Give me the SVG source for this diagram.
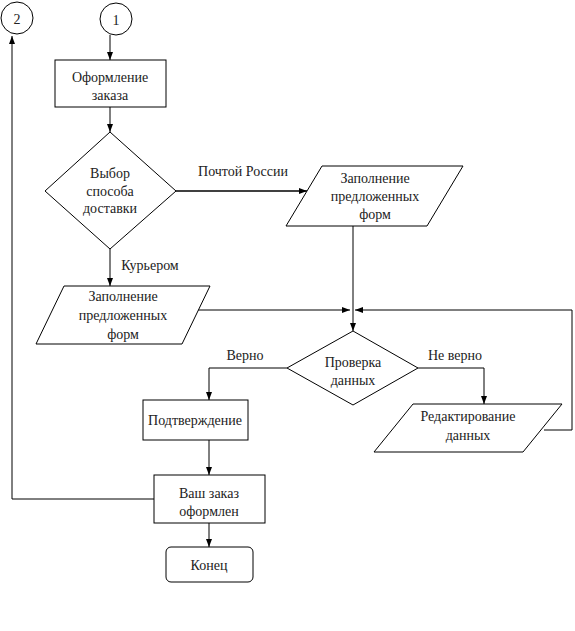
<svg xmlns="http://www.w3.org/2000/svg" width="575" height="631" viewBox="0 0 575 631">
<defs>
<style>
.s{fill:#fff;stroke:#000;stroke-width:1}
.t{font-family:'Liberation Serif','DejaVu Serif',serif;font-size:14px;fill:#222;text-anchor:middle}
.l{fill:none;stroke:#000;stroke-width:1}
.b{fill:none;stroke:#000;stroke-width:1.6}
</style>
<marker id="a" markerUnits="userSpaceOnUse" markerWidth="8" markerHeight="8" viewBox="0 0 8 8" refX="8" refY="4" orient="auto">
<path d="M0,1 L8,4 L0,7 Z" fill="#000"/>
</marker>
</defs>
<rect width="575" height="631" fill="#fff"/>
<g id="connectors">
<path class="l" d="M110,35 V60" marker-end="url(#a)"/>
<path class="l" d="M110,107 V132" marker-end="url(#a)"/>
<path class="b" d="M176,191 H307" marker-end="url(#a)"/>
<path class="l" d="M110,249 V286" marker-end="url(#a)"/>
<path class="l" d="M198,310 H350" marker-end="url(#a)"/>
<path class="l" d="M544,430 H572 V310 H355" marker-end="url(#a)"/>
<path class="l" d="M353,226 V331" marker-end="url(#a)"/>
<path class="l" d="M287,368 H209 V400" marker-end="url(#a)"/>
<path class="l" d="M418,368 H484 V404" marker-end="url(#a)"/>
<path class="l" d="M209,440 V475" marker-end="url(#a)"/>
<path class="l" d="M209,523 V547" marker-end="url(#a)"/>
<path class="l" d="M154,499 H12 V36" marker-end="url(#a)"/>
<text class="t" x="243" y="176">Почтой России</text>
<text class="t" x="150" y="270">Курьером</text>
<text class="t" x="245" y="360">Верно</text>
<text class="t" x="455" y="360">Не верно</text>
</g>
<g id="c2"><circle class="s" cx="17" cy="18" r="16"/><text class="t" x="17" y="24">2</text></g>
<g id="c1"><circle class="s" cx="116" cy="19" r="16"/><text class="t" x="116" y="25">1</text></g>
<g id="order"><rect class="s" x="55" y="60" width="111" height="47"/><text class="t" x="110" y="82">Оформление</text><text class="t" x="110" y="100">заказа</text></g>
<g id="choice"><path class="s" d="M110,132 L176,191 L110,249 L45,191 Z"/><text class="t" x="110" y="178">Выбор</text><text class="t" x="110" y="196">способа</text><text class="t" x="110" y="213">доставки</text></g>
<g id="forms1"><path class="s" d="M322,166 L463,166 L427,226 L286,226 Z"/><text class="t" x="375" y="183">Заполнение</text><text class="t" x="375" y="201">предложенных</text><text class="t" x="375" y="219">форм</text></g>
<g id="forms2"><path class="s" d="M64,286 L210,286 L182,344 L36,344 Z"/><text class="t" x="123" y="301">Заполнение</text><text class="t" x="123" y="320">предложенных</text><text class="t" x="123" y="339">форм</text></g>
<g id="check"><path class="s" d="M353,331 L418,368 L353,405 L287,368 Z"/><text class="t" x="353" y="367">Проверка</text><text class="t" x="353" y="385">данных</text></g>
<g id="confirm"><rect class="s" x="143" y="400" width="105" height="40"/><text class="t" x="195" y="425">Подтверждение</text></g>
<g id="edit"><path class="s" d="M413,404 L562,404 L523,452 L374,452 Z"/><text class="t" x="468" y="421">Редактирование</text><text class="t" x="468" y="440">данных</text></g>
<g id="done"><rect class="s" x="154" y="475" width="111" height="48"/><text class="t" x="209" y="498">Ваш заказ</text><text class="t" x="209" y="516">оформлен</text></g>
<g id="end"><rect class="s" x="166" y="547" width="87" height="35" rx="5"/><text class="t" x="209" y="570">Конец</text></g>
</svg>
